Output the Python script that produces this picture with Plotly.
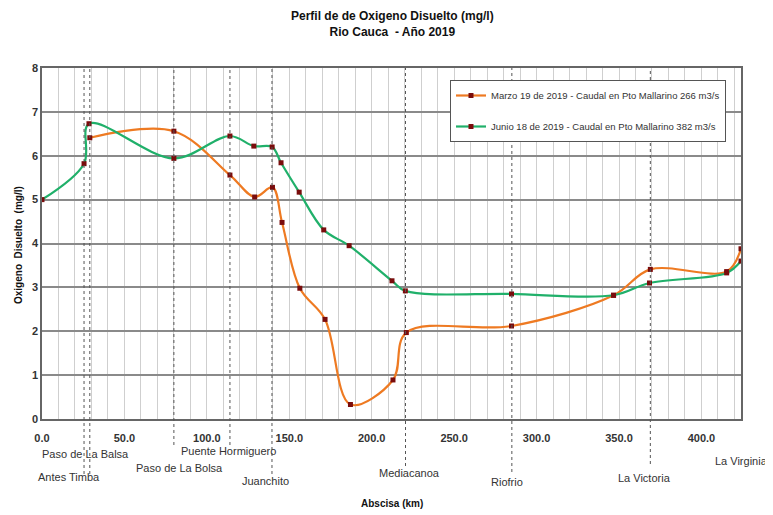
import plotly.graph_objects as go

# ---------------- data ----------------
marzo_km = [29, 80, 114, 129, 139.8, 145.6, 156.4, 171.7, 187.1, 212.9, 221, 284.8, 346.7, 369, 415.3, 424]
marzo_od = [6.41, 6.56, 5.56, 5.06, 5.28, 4.48, 2.98, 2.27, 0.33, 0.89, 1.97, 2.12, 2.82, 3.41, 3.36, 3.88]

junio_km = [0, 25.5, 28.5, 80, 114, 128.5, 139.6, 145, 156, 170.9, 186.3, 212.3, 220.4, 284.8, 346.7, 368.5, 415.3, 424]
junio_od = [5.0, 5.82, 6.73, 5.94, 6.45, 6.22, 6.2, 5.84, 5.17, 4.31, 3.95, 3.15, 2.92, 2.85, 2.82, 3.1, 3.33, 3.6]

station_names = ["Antes Timba", "Paso de La Balsa", "Paso de La Bolsa", "Puente Hormiguero",
                 "Juanchito", "Mediacanoa", "Riofrio", "La Victoria", "La Virginia"]
station_km = [25.5, 29, 80, 114, 139.5, 220.5, 285, 369, 424]

x_tick_vals = [0, 50, 100, 150, 200, 250, 300, 350, 400]
x_tick_text = ["0.0", "50.0", "100.0", "150.0", "200.0", "250.0", "300.0", "350.0", "400.0"]
y_tick_vals = [0, 1, 2, 3, 4, 5, 6, 7, 8]

legend_marzo = "Marzo 19 de 2019 - Caudal en Pto Mallarino 266 m3/s"
legend_junio = "Junio 18 de 2019 - Caudal en Pto Mallarino 382 m3/s"

# ---------------- layout helpers (positions, not data) ----------------
label_xshift = [-15, -4, 6, -1, -6, 4, -5, -6, -1]          # px
label_ypix = [477, 454, 468, 451, 481, 473, 482, 478, 461]  # px (page)
line_bottom_pix = [474, 474, 445, 445, 474, 466, 472, 464, None]

OFF = 8  # default body margin of the html page
PAGE_W, PAGE_H = 773, 515
W, H = PAGE_W - OFF, PAGE_H - OFF
P_LEFT, P_RIGHT, P_TOP, P_BOTTOM = 42, 741, 68, 419  # plot area in page pixels
ML = P_LEFT - OFF
MT = P_TOP - OFF
MR = W - (P_RIGHT - OFF)
MB = H - (P_BOTTOM - OFF)
plot_h = P_BOTTOM - P_TOP
plot_w = P_RIGHT - P_LEFT

def pix_to_paper_y(py):
    return (P_BOTTOM - py) / plot_h

def pix_to_paper_x(px):
    return (px - P_LEFT) / plot_w

FONT = "Arial, Liberation Sans, sans-serif"
MARK = "#7a0c0c"

fig = go.Figure()

fig.add_trace(go.Scatter(
    x=marzo_km, y=marzo_od, name=legend_marzo, legendgroup="a",
    mode="lines+markers",
    line=dict(color="#ee7a22", width=2.2, shape="spline", smoothing=1.0),
    marker=dict(color=MARK, size=5, symbol="square"),
))
fig.add_trace(go.Scatter(
    x=junio_km, y=junio_od, name=legend_junio, legendgroup="b",
    mode="lines+markers",
    line=dict(color="#20b06a", width=2.2, shape="spline", smoothing=1.0),
    marker=dict(color=MARK, size=5, symbol="square"),
))

shapes = []
annotations = []
for i, (name, km, dx, ly, lb) in enumerate(zip(station_names, station_km, label_xshift, label_ypix, line_bottom_pix)):
    if lb is not None:
        shapes.append(dict(type="line", xref="x", yref="paper", x0=km, x1=km,
                           y0=pix_to_paper_y(lb), y1=1,
                           line=dict(color="#555555", width=1, dash="dot"), layer="above"))
    last = (i == len(station_names) - 1)
    annotations.append(dict(text=name, xref="x", yref="paper", x=km, y=pix_to_paper_y(ly),
                            xshift=(29 if last else dx), showarrow=False,
                            xanchor=("right" if last else "center"), yanchor="middle",
                            font=dict(family=FONT, size=11, color="#333333")))

# title and axis titles as annotations
annotations.append(dict(text="<b>Perfil de de Oxigeno Disuelto (mg/l)<br>Rio Cauca  - Año 2019</b>",
                        xref="paper", yref="paper", x=pix_to_paper_x(392), y=pix_to_paper_y(24),
                        xanchor="center", yanchor="middle", showarrow=False,
                        font=dict(family=FONT, size=12, color="#111111")))
annotations.append(dict(text="<b>Abscisa (km)</b>",
                        xref="paper", yref="paper", x=pix_to_paper_x(392), y=pix_to_paper_y(504),
                        xanchor="center", yanchor="middle", showarrow=False,
                        font=dict(family=FONT, size=10, color="#111111")))
annotations.append(dict(text="<b>Oxigeno  Disuelto  (mg/l)</b>", textangle=-90,
                        xref="paper", yref="paper", x=pix_to_paper_x(18), y=pix_to_paper_y(245),
                        xanchor="center", yanchor="middle", showarrow=False,
                        font=dict(family=FONT, size=10, color="#111111")))

fig.update_layout(
    width=W, height=H,
    margin=dict(l=ML, r=MR, t=MT, b=MB),
    paper_bgcolor="white", plot_bgcolor="white",
    font=dict(family=FONT, color="#222222"),
    showlegend=True,
    legend=dict(x=pix_to_paper_x(450), y=pix_to_paper_y(80), xanchor="left", yanchor="top",
                bgcolor="white", bordercolor="#555555", borderwidth=1,
                font=dict(family=FONT, size=9.5, color="#333333"),
                tracegroupgap=12, itemwidth=30),
    xaxis=dict(range=[0, 424], tickvals=x_tick_vals,
               ticktext=["<b>%s</b>" % t for t in x_tick_text],
               tickfont=dict(family=FONT, size=11, color="#333333"),
               showgrid=True, gridcolor="#cfcfcf", gridwidth=1,
               minor=dict(dtick=10, showgrid=True, gridcolor="#cfcfcf", gridwidth=1),
               showline=True, linecolor="#666666", linewidth=1.5, mirror=True,
               zeroline=False, ticks="", ticklabelstandoff=8, automargin=False),
    yaxis=dict(range=[0, 8], tickvals=y_tick_vals,
               ticktext=["<b>%d</b>" % v for v in y_tick_vals],
               tickfont=dict(family=FONT, size=11, color="#333333"),
               showgrid=True, gridcolor="#8a8a8a", gridwidth=2,
               showline=True, linecolor="#666666", linewidth=1.5, mirror=True,
               zeroline=False, ticks="", automargin=False),
    shapes=shapes,
    annotations=annotations,
)

fig.write_html("out.html")
